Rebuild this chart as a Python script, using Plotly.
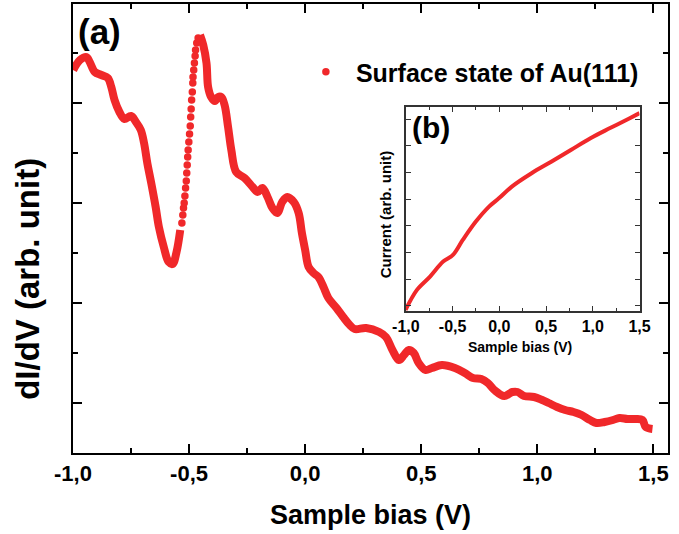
import plotly.graph_objects as go

# ---- main panel (a): dI/dV vs sample bias ----
bias = [-0.999, -0.970, -0.942, -0.928, -0.906, -0.878, -0.850, -0.835, -0.821, -0.800,
        -0.779, -0.750, -0.729, -0.708, -0.694, -0.680, -0.663, -0.644, -0.630, -0.609,
        -0.588, -0.571, -0.554, -0.538]
didv = [3.33, 3.43, 3.46, 3.41, 3.31, 3.28, 3.25, 3.16, 3.03, 2.91,
        2.84, 2.87, 2.81, 2.73, 2.60, 2.40, 2.20, 1.96, 1.76, 1.56,
        1.41, 1.39, 1.51, 1.73]

# steep rise where single points are resolved
rise_bias = [-0.531, -0.527, -0.524, -0.521, -0.518, -0.515, -0.512, -0.510, -0.508, -0.506,
             -0.504, -0.501, -0.498, -0.495, -0.493, -0.491, -0.489, -0.486, -0.484, -0.483,
             -0.480, -0.477, -0.474, -0.472, -0.467, -0.461]
rise_didv = [1.80, 1.88, 1.95, 2.00, 2.07, 2.15, 2.22, 2.30, 2.38, 2.46,
             2.53, 2.61, 2.69, 2.77, 2.86, 2.94, 3.03, 3.11, 3.20, 3.26,
             3.33, 3.40, 3.47, 3.53, 3.60, 3.65]

tail_bias = [-0.453, -0.439, -0.425, -0.418, -0.405, -0.389, -0.375, -0.361, -0.347, -0.332,
             -0.318, -0.297, -0.261, -0.226, -0.205, -0.184, -0.162, -0.141, -0.120, -0.099,
             -0.077, -0.049, -0.028, -0.014, 0.000, 0.015, 0.036, 0.057, 0.079, 0.100,
             0.135, 0.164, 0.192, 0.213, 0.263, 0.319, 0.348, 0.376, 0.404, 0.426,
             0.447, 0.468, 0.489, 0.518, 0.546, 0.589, 0.645, 0.688, 0.723, 0.759,
             0.787, 0.815, 0.858, 0.893, 0.915, 0.943, 0.986, 1.021, 1.049, 1.085,
             1.120, 1.156, 1.191, 1.227, 1.255, 1.290, 1.326, 1.354, 1.389, 1.425,
             1.453, 1.467, 1.496]
tail_didv = [3.68, 3.58, 3.40, 3.16, 3.06, 3.02, 3.06, 3.06, 2.98, 2.76,
             2.53, 2.31, 2.25, 2.16, 2.11, 2.15, 2.06, 1.95, 1.90, 2.01,
             2.06, 2.01, 1.90, 1.70, 1.53, 1.36, 1.30, 1.26, 1.16, 1.05,
             0.95, 0.86, 0.78, 0.74, 0.75, 0.71, 0.66, 0.53, 0.43, 0.48,
             0.53, 0.50, 0.40, 0.33, 0.35, 0.38, 0.35, 0.30, 0.25, 0.24,
             0.20, 0.13, 0.07, 0.11, 0.11, 0.07, 0.06, 0.03, 0.00, -0.04,
             -0.07, -0.09, -0.12, -0.17, -0.20, -0.19, -0.17, -0.15, -0.16, -0.16,
             -0.17, -0.24, -0.26]

# ---- inset (b): current vs sample bias ----
inset_bias = [-1.003, -0.881, -0.741, -0.601, -0.496, -0.391, -0.251, -0.110, -0.005, 0.134,
              0.345, 0.555, 0.765, 0.975, 1.185, 1.395, 1.500]
inset_current = [-0.15, 0.60, 1.10, 1.66, 1.91, 2.47, 3.16, 3.72, 4.03, 4.47,
                 4.97, 5.40, 5.84, 6.28, 6.66, 7.03, 7.22]

x_ticks = [-1.0, -0.5, 0.0, 0.5, 1.0, 1.5]
x_ticktext = ["-1,0", "-0,5", "0,0", "0,5", "1,0", "1,5"]
x_minor = [-0.75, -0.25, 0.25, 0.75, 1.25]

RED = "#f0282a"
FONT = "Liberation Sans"

fig = go.Figure()
fig.add_trace(go.Scatter(x=bias, y=didv, mode="lines", showlegend=False,
                         line=dict(color=RED, width=8, shape="spline"), xaxis="x", yaxis="y"))
fig.add_trace(go.Scatter(x=tail_bias, y=tail_didv, mode="lines", showlegend=False,
                         line=dict(color=RED, width=8, shape="spline"), xaxis="x", yaxis="y"))
fig.add_trace(go.Scatter(x=rise_bias, y=rise_didv, mode="markers", name="Surface state of Au(111)",
                         marker=dict(color=RED, size=7.5), xaxis="x", yaxis="y"))
fig.add_trace(go.Scatter(x=inset_bias, y=inset_current, mode="lines", showlegend=False,
                         line=dict(color=RED, width=4, shape="spline"), xaxis="x2", yaxis="y2"))

W, H = 679, 534
L, R, T, B = 73, 0, 4, 81
pw, ph = W - L - R, H - T - B


def px2paper_x(px):
    return (px - L) / pw


def px2paper_y(py):
    return (H - B - py) / ph


fig.update_layout(
    width=W, height=H,
    margin=dict(l=L, r=R, t=T, b=B),
    paper_bgcolor="white", plot_bgcolor="white",
    font=dict(family=FONT, color="black"),
    xaxis=dict(range=[-1.0, 1.563], tickmode="array", tickvals=x_ticks, ticktext=x_ticktext,
               ticks="inside", ticklen=9, tickwidth=2, tickcolor="black",
               minor=dict(tickmode="array", tickvals=x_minor, ticks="inside", ticklen=5,
                          tickwidth=2, tickcolor="black"),
               showline=True, linewidth=2, linecolor="black", mirror="ticks",
               showgrid=False, zeroline=False,
               tickfont=dict(size=22, family=FONT, weight="bold")),
    yaxis=dict(range=[-0.5, 3.99], tickmode="array", tickvals=[0, 1, 2, 3],
               ticks="inside", ticklen=9, tickwidth=2, tickcolor="black",
               minor=dict(tickmode="array", tickvals=[0.5, 1.5, 2.5, 3.5], ticks="inside",
                          ticklen=5, tickwidth=2, tickcolor="black"),
               showticklabels=False,
               showline=True, linewidth=2, linecolor="black", mirror="ticks",
               showgrid=False, zeroline=False),
    xaxis2=dict(domain=[px2paper_x(412), px2paper_x(650)], anchor="y2",
                range=[-1.0, 1.5], tickmode="array", tickvals=x_ticks, ticktext=x_ticktext,
                ticks="inside", ticklen=5, tickwidth=1, tickcolor="#333",
                minor=dict(tickmode="array", tickvals=x_minor, ticks="inside", ticklen=3,
                           tickwidth=1, tickcolor="#333"),
                showline=True, linewidth=1.5, linecolor="#333", mirror="ticks",
                showgrid=False, zeroline=False,
                tickfont=dict(size=16, family=FONT, weight="bold")),
    yaxis2=dict(domain=[px2paper_y(311), px2paper_y(107)], anchor="x2",
                range=[-0.19, 7.45], tickmode="array", tickvals=[0, 1, 2, 3, 4, 5, 6, 7],
                ticks="inside", ticklen=5, tickwidth=1, tickcolor="#333",
                showticklabels=False,
                showline=True, linewidth=1.5, linecolor="#333", mirror="ticks",
                showgrid=False, zeroline=False),
    legend=dict(x=px2paper_x(300), y=px2paper_y(72), xanchor="left", yanchor="middle",
                bgcolor="rgba(0,0,0,0)", itemwidth=50,
                font=dict(size=25, family=FONT, weight="bold")),
    annotations=[
        dict(text="(a)", x=px2paper_x(76), y=px2paper_y(31), xref="paper", yref="paper",
             xanchor="left", yanchor="middle", showarrow=False,
             font=dict(size=35, family=FONT, weight="bold")),
        dict(text="(b)", x=px2paper_x(416), y=px2paper_y(127), xref="paper", yref="paper",
             xanchor="left", yanchor="middle", showarrow=False,
             font=dict(size=30, family=FONT, weight="bold")),
        dict(text="Sample bias (V)", x=px2paper_x(376), y=px2paper_y(515), xref="paper",
             yref="paper", xanchor="center", yanchor="middle", showarrow=False,
             font=dict(size=27, family=FONT, weight="bold")),
        dict(text="dI/dV (arb. unit)", x=px2paper_x(26), y=px2paper_y(279), xref="paper",
             yref="paper", xanchor="center", yanchor="middle", showarrow=False, textangle=-90,
             font=dict(size=33, family=FONT, weight="bold")),
        dict(text="Sample bias (V)", x=px2paper_x(528), y=px2paper_y(347), xref="paper",
             yref="paper", xanchor="center", yanchor="middle", showarrow=False,
             font=dict(size=14, family=FONT, weight="bold")),
        dict(text="Current (arb. unit)", x=px2paper_x(391), y=px2paper_y(214), xref="paper",
             yref="paper", xanchor="center", yanchor="middle", showarrow=False, textangle=-90,
             font=dict(size=15, family=FONT, weight="bold")),
    ],
)

fig.write_html("out.html")
